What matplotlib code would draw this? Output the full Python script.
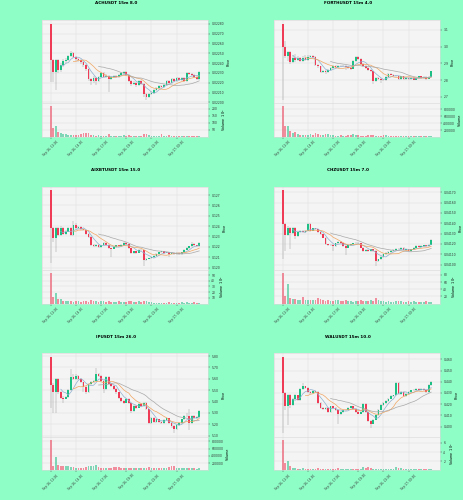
import numpy as np
import pandas as pd
import matplotlib
matplotlib.use("Agg")
import matplotlib.pyplot as plt

BG = "#8efdc6"
UP = "#1dbf84"
DOWN = "#ef3b56"
WICK = "#9a9a9a"
MAV = (5, 10, 20)
MAV_COLORS = ["#8fb0d0", "#f0a560", "#a8a8a8"]

time_ticks = [0, 10, 20, 30, 40, 50]
time_labels = ["Sep 16, 12:00", "Sep 16, 14:30", "Sep 16, 17:00",
               "Sep 16, 19:30", "Sep 16, 22:00", "Sep 17, 00:30"]

# ---- ACHUSDT ----
ach_open0 = 0.02280
ach_close = [0.02243, 0.02231, 0.02243, 0.02233, 0.02238, 0.02242, 0.02243, 0.02247, 0.02250, 0.02246,
             0.02244, 0.02243, 0.02241, 0.02238, 0.02234, 0.02224, 0.02222, 0.02225, 0.02222, 0.02226,
             0.02230, 0.02226, 0.02227, 0.02224, 0.02226, 0.02227, 0.02226, 0.02228, 0.02230, 0.02231,
             0.02228, 0.02222, 0.02219, 0.02220, 0.02218, 0.02222, 0.02219, 0.02209, 0.02206, 0.02209,
             0.02210, 0.02213, 0.02215, 0.02217, 0.02216, 0.02218, 0.02222, 0.02220, 0.02224, 0.02222,
             0.02225, 0.02223, 0.02225, 0.02222, 0.02230, 0.02229, 0.02228, 0.02226, 0.02224, 0.02231]
ach_high = [0.02280, 0.02244, 0.02244, 0.02244, 0.02240, 0.02244, 0.02245, 0.02248, 0.02252, 0.02251,
            0.02247, 0.02245, 0.02244, 0.02242, 0.02239, 0.02235, 0.02225, 0.02227, 0.02226, 0.02227,
            0.02231, 0.02231, 0.02229, 0.02228, 0.02227, 0.02228, 0.02228, 0.02229, 0.02231, 0.02232,
            0.02232, 0.02229, 0.02223, 0.02222, 0.02221, 0.02223, 0.02223, 0.02220, 0.02210, 0.02210,
            0.02212, 0.02214, 0.02216, 0.02218, 0.02218, 0.02219, 0.02223, 0.02223, 0.02225, 0.02225,
            0.02226, 0.02226, 0.02226, 0.02226, 0.02231, 0.02231, 0.02230, 0.02229, 0.02227, 0.02232]
ach_low = [0.02221, 0.02221, 0.02213, 0.02230, 0.02231, 0.02236, 0.02240, 0.02242, 0.02246, 0.02245,
           0.02242, 0.02241, 0.02239, 0.02236, 0.02232, 0.02222, 0.02218, 0.02220, 0.02218, 0.02221,
           0.02225, 0.02225, 0.02225, 0.02211, 0.02223, 0.02225, 0.02225, 0.02225, 0.02227, 0.02229,
           0.02227, 0.02221, 0.02217, 0.02218, 0.02216, 0.02217, 0.02218, 0.02206, 0.02203, 0.02205,
           0.02208, 0.02209, 0.02212, 0.02214, 0.02215, 0.02215, 0.02217, 0.02219, 0.02219, 0.02221,
           0.02221, 0.02222, 0.02222, 0.02221, 0.02221, 0.02228, 0.02227, 0.02225, 0.02223, 0.02223]
ach_volume = [216, 61, 80, 38, 31, 22, 18, 15, 14, 16, 13, 12, 22, 26, 30, 25, 16, 12, 10, 12,
              9, 8, 10, 20, 9, 8, 10, 9, 8, 12, 9, 11, 10, 8, 9, 10, 8, 20, 18, 12,
              9, 8, 7, 8, 18, 9, 8, 17, 7, 9, 8, 7, 6, 7, 9, 6, 5, 6, 5, 8]

# ---- FORTHUSDT ----
forth_open0 = 3.136
forth_close = [2.995, 2.942, 2.965, 2.906, 2.932, 2.918, 2.930, 2.916, 2.930, 2.918,
               2.938, 2.946, 2.938, 2.892, 2.882, 2.849, 2.852, 2.849, 2.862, 2.872,
               2.886, 2.876, 2.886, 2.882, 2.886, 2.878, 2.872, 2.868, 2.912, 2.938,
               2.926, 2.898, 2.886, 2.872, 2.862, 2.852, 2.793, 2.813, 2.809, 2.803,
               2.799, 2.819, 2.839, 2.833, 2.827, 2.823, 2.807, 2.823, 2.807, 2.813,
               2.807, 2.813, 2.803, 2.811, 2.823, 2.813, 2.819, 2.807, 2.819, 2.852]
forth_high = [3.136, 3.031, 2.975, 2.972, 2.950, 2.955, 2.945, 2.940, 2.942, 2.948,
              2.950, 2.952, 2.950, 2.942, 2.898, 2.886, 2.860, 2.858, 2.866, 2.878,
              2.892, 2.892, 2.890, 2.890, 2.892, 2.890, 2.882, 2.876, 2.918, 2.946,
              2.942, 2.930, 2.902, 2.890, 2.876, 2.866, 2.856, 2.818, 2.818, 2.812,
              2.808, 2.824, 2.844, 2.842, 2.836, 2.830, 2.826, 2.826, 2.826, 2.816,
              2.816, 2.816, 2.816, 2.814, 2.826, 2.826, 2.822, 2.822, 2.822, 2.856]
forth_low = [2.684, 2.930, 2.915, 2.898, 2.900, 2.910, 2.912, 2.908, 2.910, 2.912,
             2.912, 2.932, 2.930, 2.885, 2.875, 2.842, 2.840, 2.838, 2.845, 2.858,
             2.868, 2.870, 2.872, 2.876, 2.878, 2.860, 2.866, 2.862, 2.865, 2.908,
             2.920, 2.892, 2.880, 2.866, 2.856, 2.846, 2.775, 2.788, 2.803, 2.780,
             2.792, 2.795, 2.815, 2.828, 2.822, 2.818, 2.802, 2.803, 2.802, 2.803,
             2.802, 2.803, 2.798, 2.799, 2.808, 2.808, 2.809, 2.803, 2.804, 2.816]
forth_volume = [885000, 305000, 305000, 180000, 115000, 150000, 80000, 60000, 70000, 55000,
                60000, 85000, 65000, 105000, 100000, 70000, 65000, 95000, 80000, 55000,
                45000, 40000, 35000, 50000, 40000, 30000, 45000, 60000, 75000, 55000,
                45000, 40000, 35000, 40000, 45000, 55000, 70000, 40000, 35000, 30000,
                45000, 50000, 35000, 30000, 25000, 30000, 20000, 25000, 30000, 20000,
                25000, 20000, 30000, 25000, 20000, 25000, 20000, 25000, 20000, 40000]

# ---- AIXBTUSDT ----
aixbt_open0 = 0.12745
aixbt_close = [0.12381, 0.12284, 0.12381, 0.12310, 0.12381, 0.12326, 0.12348, 0.12381, 0.12310, 0.12413,
               0.12381, 0.12390, 0.12374, 0.12358, 0.12326, 0.12294, 0.12219, 0.12206, 0.12219, 0.12197,
               0.12213, 0.12239, 0.12219, 0.12187, 0.12181, 0.12197, 0.12213, 0.12206, 0.12219, 0.12239,
               0.12226, 0.12187, 0.12142, 0.12155, 0.12142, 0.12174, 0.12165, 0.12068, 0.12084, 0.12090,
               0.12100, 0.12116, 0.12132, 0.12148, 0.12155, 0.12142, 0.12148, 0.12132, 0.12142, 0.12129,
               0.12142, 0.12129, 0.12148, 0.12174, 0.12187, 0.12206, 0.12229, 0.12213, 0.12206, 0.12239]
aixbt_high = [0.12745, 0.12395, 0.12395, 0.12392, 0.12400, 0.12390, 0.12360, 0.12395, 0.12390, 0.12445,
              0.12430, 0.12400, 0.12398, 0.12380, 0.12362, 0.12332, 0.12300, 0.12225, 0.12228, 0.12225,
              0.12220, 0.12248, 0.12245, 0.12225, 0.12192, 0.12205, 0.12220, 0.12220, 0.12226, 0.12246,
              0.12245, 0.12230, 0.12192, 0.12162, 0.12160, 0.12182, 0.12180, 0.12170, 0.12090, 0.12096,
              0.12106, 0.12122, 0.12138, 0.12154, 0.12162, 0.12160, 0.12154, 0.12154, 0.12148, 0.12148,
              0.12148, 0.12148, 0.12154, 0.12180, 0.12194, 0.12212, 0.12245, 0.12235, 0.12220, 0.12246]
aixbt_low = [0.12045, 0.12245, 0.12148, 0.12300, 0.12300, 0.12315, 0.12318, 0.12340, 0.12300, 0.12305,
             0.12372, 0.12372, 0.12365, 0.12350, 0.12318, 0.12285, 0.12210, 0.12195, 0.12198, 0.12185,
             0.12190, 0.12208, 0.12210, 0.12178, 0.12100, 0.12175, 0.12190, 0.12198, 0.12200, 0.12212,
             0.12218, 0.12180, 0.12135, 0.12135, 0.12135, 0.12138, 0.12158, 0.12013, 0.12060, 0.12078,
             0.12084, 0.12095, 0.12110, 0.12126, 0.12142, 0.12135, 0.12136, 0.12100, 0.12126, 0.12122,
             0.12122, 0.12120, 0.12122, 0.12142, 0.12168, 0.12180, 0.12200, 0.12206, 0.12198, 0.12200]
aixbt_volume = [53.5, 12, 19, 9, 8, 5, 5, 4, 4, 3, 5, 4, 3, 4, 5, 3, 6.5, 5, 4, 3,
                5, 4, 3, 4, 3, 3, 3, 4, 3, 3, 3, 5, 4, 3, 3, 4, 3, 5.5, 4, 3,
                3, 2, 2, 2, 2, 2, 2, 3, 2, 2, 2, 2, 3, 2, 3, 2, 2, 3, 2, 2]

# ---- CHZUSDT ----
chz_open0 = 0.041717
chz_close = [0.041391, 0.041287, 0.041358, 0.041309, 0.041358, 0.041277, 0.041316, 0.041322, 0.041316, 0.041326,
             0.041391, 0.041326, 0.041349, 0.041342, 0.041316, 0.041293, 0.041261, 0.041195, 0.041186, 0.041192,
             0.041179, 0.041205, 0.041218, 0.041205, 0.041179, 0.041163, 0.041186, 0.041195, 0.041205, 0.041212,
             0.041205, 0.041163, 0.041130, 0.041140, 0.041130, 0.041147, 0.041130, 0.041033, 0.041049, 0.041075,
             0.041098, 0.041114, 0.041121, 0.041130, 0.041140, 0.041153, 0.041147, 0.041163, 0.041140, 0.041147,
             0.041130, 0.041147, 0.041163, 0.041179, 0.041173, 0.041179, 0.041186, 0.041179, 0.041192, 0.041238]
chz_high = [0.041717, 0.041400, 0.041370, 0.041365, 0.041368, 0.041365, 0.041325, 0.041330, 0.041330, 0.041335,
            0.041400, 0.041398, 0.041358, 0.041356, 0.041348, 0.041322, 0.041300, 0.041268, 0.041202, 0.041200,
            0.041198, 0.041212, 0.041225, 0.041225, 0.041212, 0.041186, 0.041192, 0.041202, 0.041212, 0.041220,
            0.041220, 0.041212, 0.041170, 0.041148, 0.041148, 0.041155, 0.041155, 0.041138, 0.041058, 0.041082,
            0.041105, 0.041120, 0.041128, 0.041138, 0.041148, 0.041160, 0.041160, 0.041170, 0.041170, 0.041155,
            0.041155, 0.041155, 0.041170, 0.041186, 0.041186, 0.041186, 0.041192, 0.041192, 0.041198, 0.041246]
chz_low = [0.041055, 0.041130, 0.041280, 0.041153, 0.041300, 0.041244, 0.041270, 0.041308, 0.041308, 0.041308,
           0.041320, 0.041318, 0.041320, 0.041335, 0.041308, 0.041285, 0.041252, 0.041186, 0.041178, 0.041178,
           0.041130, 0.041172, 0.041198, 0.041198, 0.041170, 0.041088, 0.041156, 0.041178, 0.041188, 0.041198,
           0.041198, 0.041156, 0.041122, 0.041122, 0.041122, 0.041122, 0.041122, 0.040984, 0.041025, 0.041042,
           0.041068, 0.041090, 0.041106, 0.041114, 0.041122, 0.041132, 0.041140, 0.041140, 0.041132, 0.041132,
           0.041122, 0.041122, 0.041140, 0.041156, 0.041166, 0.041166, 0.041172, 0.041172, 0.041172, 0.041186]
chz_volume = [85, 22, 55, 15, 13, 12, 10, 10, 19, 10, 10, 9, 10, 9, 16, 13, 9, 8, 9, 7,
              8, 10, 9, 8, 7, 10, 8, 7, 6, 7, 7, 10, 8, 7, 8, 9, 7, 15, 10, 8,
              7, 6, 7, 6, 6, 7, 8, 7, 6, 6, 7, 6, 8, 6, 6, 5, 6, 7, 6, 6]

# ---- IPUSDT ----
ip_open0 = 5.791
ip_close = [5.548, 5.480, 5.599, 5.480, 5.435, 5.426, 5.441, 5.501, 5.613, 5.599,
            5.628, 5.599, 5.569, 5.530, 5.480, 5.554, 5.569, 5.584, 5.643, 5.628,
            5.584, 5.509, 5.619, 5.554, 5.539, 5.509, 5.480, 5.435, 5.406, 5.391,
            5.420, 5.391, 5.317, 5.361, 5.346, 5.382, 5.361, 5.391, 5.331, 5.213,
            5.257, 5.222, 5.242, 5.222, 5.213, 5.234, 5.251, 5.213, 5.183, 5.159,
            5.192, 5.213, 5.242, 5.272, 5.272, 5.213, 5.272, 5.251, 5.263, 5.317]
ip_high = [5.791, 5.560, 5.610, 5.605, 5.490, 5.445, 5.452, 5.512, 5.688, 5.640,
           5.640, 5.635, 5.605, 5.575, 5.538, 5.562, 5.578, 5.592, 5.696, 5.652,
           5.635, 5.590, 5.628, 5.625, 5.562, 5.545, 5.515, 5.488, 5.442, 5.412,
           5.430, 5.428, 5.398, 5.370, 5.368, 5.390, 5.390, 5.398, 5.398, 5.338,
           5.265, 5.265, 5.250, 5.250, 5.228, 5.242, 5.258, 5.258, 5.220, 5.190,
           5.200, 5.220, 5.250, 5.280, 5.300, 5.331, 5.280, 5.280, 5.272, 5.325]
ip_low = [5.346, 5.302, 5.302, 5.470, 5.425, 5.391, 5.418, 5.435, 5.495, 5.590,
          5.590, 5.590, 5.560, 5.480, 5.470, 5.472, 5.545, 5.560, 5.578, 5.620,
          5.575, 5.471, 5.500, 5.545, 5.530, 5.500, 5.470, 5.425, 5.398, 5.382,
          5.385, 5.382, 5.302, 5.310, 5.338, 5.340, 5.352, 5.355, 5.322, 5.198,
          5.205, 5.214, 5.215, 5.214, 5.205, 5.206, 5.226, 5.205, 5.168, 5.124,
          5.150, 5.185, 5.205, 5.235, 5.262, 5.145, 5.205, 5.244, 5.244, 5.255]
ip_volume = [848000, 120000, 369000, 138000, 120000, 120000, 120000, 110000, 92000, 80000,
             74000, 74000, 74000, 74000, 92000, 110000, 110000, 110000, 138000, 92000,
             74000, 65000, 70000, 74000, 60000, 92000, 100000, 92000, 74000, 65000,
             60000, 55000, 70000, 60000, 65000, 55000, 60000, 65000, 74000, 92000,
             70000, 65000, 60000, 70000, 65000, 60000, 74000, 92000, 129000, 110000,
             74000, 60000, 55000, 65000, 60000, 74000, 60000, 55000, 50000, 55000]

# ---- WALUSDT ----
wal_open0 = 0.4620
wal_close = [0.4300, 0.4181, 0.4279, 0.4190, 0.4249, 0.4279, 0.4240, 0.4338, 0.4359, 0.4347,
             0.4309, 0.4300, 0.4318, 0.4309, 0.4211, 0.4169, 0.4160, 0.4169, 0.4131, 0.4181,
             0.4169, 0.4151, 0.4110, 0.4131, 0.4145, 0.4151, 0.4169, 0.4181, 0.4160, 0.4131,
             0.4116, 0.4131, 0.4199, 0.4131, 0.4050, 0.4027, 0.4062, 0.4101, 0.4151, 0.4190,
             0.4211, 0.4228, 0.4249, 0.4270, 0.4279, 0.4389, 0.4288, 0.4309, 0.4270, 0.4294,
             0.4309, 0.4323, 0.4329, 0.4338, 0.4323, 0.4338, 0.4329, 0.4309, 0.4368, 0.4398]
wal_high = [0.4620, 0.4310, 0.4290, 0.4288, 0.4258, 0.4288, 0.4286, 0.4346, 0.4389, 0.4366,
            0.4354, 0.4316, 0.4326, 0.4326, 0.4316, 0.4218, 0.4176, 0.4176, 0.4176, 0.4188,
            0.4188, 0.4176, 0.4158, 0.4138, 0.4152, 0.4158, 0.4176, 0.4188, 0.4188, 0.4166,
            0.4138, 0.4138, 0.4206, 0.4206, 0.4138, 0.4058, 0.4070, 0.4108, 0.4158, 0.4198,
            0.4218, 0.4236, 0.4256, 0.4278, 0.4286, 0.4398, 0.4396, 0.4316, 0.4316, 0.4302,
            0.4316, 0.4330, 0.4336, 0.4346, 0.4346, 0.4346, 0.4346, 0.4336, 0.4376, 0.4406]
wal_low = [0.3944, 0.4145, 0.4012, 0.4169, 0.4182, 0.4240, 0.4232, 0.4232, 0.4330, 0.4338,
           0.4300, 0.4292, 0.4292, 0.4300, 0.4202, 0.4160, 0.4150, 0.4152, 0.4122, 0.4124,
           0.4160, 0.4142, 0.4027, 0.4102, 0.4124, 0.4138, 0.4144, 0.4162, 0.4152, 0.4122,
           0.4108, 0.4108, 0.4124, 0.4122, 0.4040, 0.3991, 0.4020, 0.4055, 0.4094, 0.4144,
           0.4182, 0.4204, 0.4220, 0.4242, 0.4262, 0.4272, 0.4280, 0.4280, 0.4262, 0.4262,
           0.4286, 0.4302, 0.4316, 0.4322, 0.4316, 0.4316, 0.4322, 0.4300, 0.4302, 0.4360]
wal_volume = [6.7, 1.6, 2.05, 0.95, 0.45, 0.5, 0.35, 0.35, 0.45, 0.35, 0.3, 0.3, 0.35, 0.4, 0.5, 0.4, 0.35, 0.3, 0.3, 0.35,
              0.3, 0.3, 0.5, 0.35, 0.3, 0.3, 0.3, 0.35, 0.3, 0.3, 0.3, 0.35, 0.75, 0.5, 0.65, 0.55, 0.4, 0.35, 0.3, 0.3,
              0.35, 0.3, 0.35, 0.3, 0.4, 0.65, 0.55, 0.5, 0.4, 0.35, 0.3, 0.3, 0.35, 0.3, 0.3, 0.25, 0.3, 0.25, 0.3, 0.3]

panels = [
    ("ACHUSDT 15m 8.0", ach_open0, ach_close, ach_high, ach_low, ach_volume,
     [0.0220 + 0.0001 * k for k in range(9)], "%.5f", [50, 100, 150, 200], "Volume  $10^{6}$"),
    ("FORTHUSDT 15m 4.0", forth_open0, forth_close, forth_high, forth_low, forth_volume,
     [2.7, 2.8, 2.9, 3.0, 3.1], "%.1f", [200000, 400000, 600000, 800000], "Volume"),
    ("AIXBTUSDT 15m 15.0", aixbt_open0, aixbt_close, aixbt_high, aixbt_low, aixbt_volume,
     [0.120 + 0.001 * k for k in range(8)], "%.3f", [10, 20, 30, 40, 50], "Volume  $10^{5}$"),
    ("CHZUSDT 15m 7.0", chz_open0, chz_close, chz_high, chz_low, chz_volume,
     [0.0410 + 0.0001 * k for k in range(8)], "%.5f", [20, 40, 60, 80], "Volume  $10^{5}$"),
    ("IPUSDT 15m 26.0", ip_open0, ip_close, ip_high, ip_low, ip_volume,
     [5.1 + 0.1 * k for k in range(8)], "%.2f", [200000, 400000, 600000, 800000], "Volume"),
    ("WALUSDT 15m 10.0", wal_open0, wal_close, wal_high, wal_low, wal_volume,
     [0.40 + 0.01 * k for k in range(7)], "%.3f", [2, 4, 6], "Volume  $10^{6}$"),
]

W, H = 464, 500
fig = plt.figure(figsize=(W / 100, H / 100), dpi=100, facecolor=BG)


def style_axis(ax):
    ax.set_facecolor("#f4f4f4")
    ax.grid(True, color="#dedede", linewidth=0.35)
    ax.set_axisbelow(True)
    for s in ax.spines.values():
        s.set_color("#d8d8d8")
        s.set_linewidth(0.4)
    ax.yaxis.tick_right()
    ax.yaxis.set_label_position("right")
    ax.tick_params(axis="both", labelsize=2.2, length=1.2, width=0.3, pad=1, colors="#333333")


def draw_panel(idx, title, open0, close, high, low, volume, pticks, pfmt, vticks, vlabel):
    col, row = idx % 2, idx // 2
    px0 = col * 232
    py0 = row * (H / 3)
    left = (px0 + 41.7) / W
    width = 166.6 / W
    top = py0 + 20
    mid = py0 + 103.3
    bot = py0 + 137

    c = np.array(close)
    o = np.concatenate([[open0], c[:-1]])
    h = np.array(high)
    l = np.array(low)
    v = np.array(volume, dtype=float)
    x = np.arange(len(c))
    up = c >= o
    colors = np.where(up, UP, DOWN)

    ax = fig.add_axes([left, 1 - mid / H, width, (mid - top) / H])
    axv = fig.add_axes([left, 1 - bot / H, width, (bot - mid) / H], sharex=ax)
    style_axis(ax)
    style_axis(axv)

    # candles
    rng = h.max() - l.min()
    ax.vlines(x, l, h, color=WICK, linewidth=0.35, zorder=2)
    body = np.maximum(np.abs(c - o), rng * 0.004)
    ax.bar(x, body, bottom=np.minimum(o, c), width=0.7, color=colors, linewidth=0, zorder=3)

    # moving averages
    s = pd.Series(c)
    for w, mc in zip(MAV, MAV_COLORS):
        ax.plot(x, s.rolling(w).mean(), color=mc, linewidth=0.5, zorder=4)

    pad = rng * 0.05
    ax.set_ylim(l.min() - pad, h.max() + pad)
    ax.set_yticks(pticks)
    ax.set_yticklabels([pfmt % t for t in pticks])
    ax.set_ylabel("Price", fontsize=2.4, labelpad=2)
    ax.set_xlim(-3.6, len(c) + 2.6)
    ax.tick_params(axis="x", labelbottom=False, length=0)

    # volume
    axv.bar(x, v, width=0.7, color=colors, alpha=0.55, linewidth=0, zorder=3)
    axv.set_ylim(0, v.max() * 1.1)
    axv.set_yticks(vticks)
    axv.set_yticklabels([str(t) for t in vticks])
    axv.set_ylabel(vlabel, fontsize=2.4, labelpad=2)
    axv.set_xticks(time_ticks)
    axv.set_xticklabels(time_labels, rotation=45, fontsize=2.1)

    fig.text((px0 + 116) / W, 1 - (py0 + 3.4) / H, title, ha="center", va="center",
             fontsize=3.0, fontweight="bold")


for i, p in enumerate(panels):
    draw_panel(i, *p)

fig.savefig("out.png", dpi=100, facecolor=BG)
